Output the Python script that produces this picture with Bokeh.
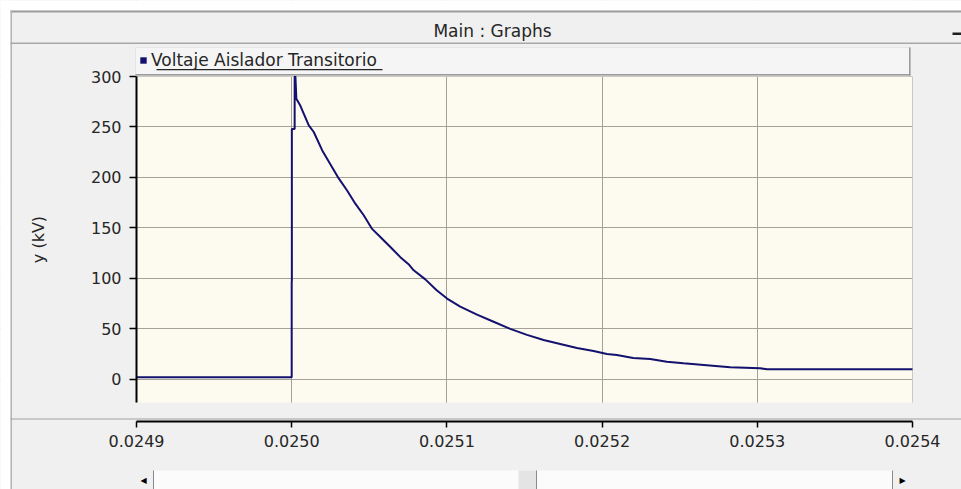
from bokeh.plotting import figure
from bokeh.models import (Range1d, FixedTicker, PrintfTickFormatter, Legend, LegendItem,
                          Label, BoxAnnotation)
from bokeh.embed import file_html
from bokeh.resources import INLINE

# ---------------- data ----------------
time_s = [0.0249000, 0.0250000, 0.0250000, 0.0250001, 0.0250001, 0.0250019, 0.0250019,
          0.0250024, 0.0250030, 0.0250056, 0.0250110, 0.0250142, 0.0250196, 0.0250249,
          0.0250303, 0.0250357, 0.0250410, 0.0250464, 0.0250518, 0.0250571, 0.0250636,
          0.0250700, 0.0250753, 0.0250786, 0.0250861, 0.0250936, 0.0251001, 0.0251086,
          0.0251194, 0.0251301, 0.0251408, 0.0251516, 0.0251623, 0.0251730, 0.0251838,
          0.0251945, 0.0252031, 0.0252095, 0.0252200, 0.0252310, 0.0252417, 0.0252524,
          0.0252675, 0.0252825, 0.0253018, 0.0253061, 0.0254000]
voltage_kv = [2, 2, 97, 97, 248, 248, 300,
              300, 278, 271, 251.5, 245, 227, 213,
              199, 187, 174, 162.5, 149, 141, 131,
              121, 114, 108, 99, 88, 80, 72,
              64, 57, 50, 44, 39, 35, 31,
              28, 25, 24, 21, 20, 17.4, 15.8,
              14, 11.9, 10.9, 9.9, 9.9]
x_ticks = [0.0249, 0.0250, 0.0251, 0.0252, 0.0253, 0.0254]
y_ticks = [0, 50, 100, 150, 200, 250, 300]
y_min = -23
series_name = "Voltaje Aislador Transitorio"
panel_title = "Main : Graphs"
y_label = "y (kV)"

# ---------------- style / layout (canvas pixels) ----------------
FONT = "DejaVu Sans"
PANEL = "#F0F0F0"
CREAM = "#FDFAF0"
GRID = "#A4A296"
NAVY = "#12126E"
TEXT = "#262626"
EDGE = "#A0A0A0"

W, H = 961, 489
PLOT_L, PLOT_R = 136, 912      # cream plotting area
PLOT_T, PLOT_B = 76, 402
AXIS_Y = 421                   # x axis line
LEG_L, LEG_R, LEG_T, LEG_B = 135, 910, 47, 75
PLOT_W = PLOT_R - PLOT_L

x0, x1 = x_ticks[0], x_ticks[-1]
y_top = y_ticks[-1]


def X(px):
    return x0 + (px - PLOT_L) * (x1 - x0) / PLOT_W


def Y(py):
    return y_top - (py - PLOT_T) * (y_top - y_min) / (PLOT_B - PLOT_T)


p = figure(width=W, height=H, title=None,
           x_range=Range1d(X(0), X(W)), y_range=Range1d(Y(H), Y(0)),
           min_border=0, toolbar_location=None, output_backend="svg",
           background_fill_color=CREAM, border_fill_color=PANEL,
           outline_line_color=None)

# grid, limited to the cream area by the grey covers below
p.ygrid.ticker = FixedTicker(ticks=y_ticks)
p.xgrid.ticker = FixedTicker(ticks=x_ticks)
p.grid.grid_line_color = GRID
p.grid.grid_line_width = 1


def box(l, r, t, b, color, level="annotation", line_color=None):
    p.add_layout(BoxAnnotation(left=X(l), right=X(r), top=Y(t), bottom=Y(b),
                               fill_color=color, fill_alpha=1, line_color=line_color,
                               level=level))


# grey window panel around the cream plotting area
box(0, W, 0, PLOT_T, PANEL, "underlay")
box(0, W, PLOT_B, H, PANEL, "underlay")
box(0, PLOT_L, 0, H, PANEL, "underlay")
box(PLOT_R, W, 0, H, PANEL, "underlay")

# y axis, pinned at the left edge of the cream area
ya = p.yaxis[0]
ya.fixed_location = x0
ya.ticker = FixedTicker(ticks=y_ticks)
ya.bounds = (y_min, y_top)
ya.axis_line_color = "black"
ya.axis_line_width = 2
ya.major_tick_line_color = "black"
ya.major_tick_line_width = 1.5
ya.major_tick_out = 7
ya.major_tick_in = 0
ya.minor_tick_line_color = None
ya.major_label_text_font = FONT
ya.major_label_text_font_size = "16px"
ya.major_label_text_color = TEXT
ya.major_label_standoff = 8
ya.axis_label = y_label
ya.axis_label_text_font = FONT
ya.axis_label_text_font_style = "normal"
ya.axis_label_text_font_size = "16px"
ya.axis_label_text_color = TEXT
ya.axis_label_standoff = 40

# x axis, pinned below the cream area
xa = p.xaxis[0]
xa.fixed_location = Y(AXIS_Y)
xa.ticker = FixedTicker(ticks=x_ticks)
xa.bounds = (x0, x1)
xa.formatter = PrintfTickFormatter(format="%.4f")
xa.axis_line_color = "black"
xa.axis_line_width = 2
xa.major_tick_line_color = "black"
xa.major_tick_line_width = 1.5
xa.major_tick_out = 6
xa.major_tick_in = 0
xa.minor_tick_line_color = None
xa.major_label_text_font = FONT
xa.major_label_text_font_size = "16px"
xa.major_label_text_color = TEXT
xa.major_label_standoff = 7

# data
p.line(time_s, voltage_kv, line_color=NAVY, line_width=2)
marker = p.scatter(time_s, voltage_kv, marker="square", size=0,
                   fill_color=NAVY, line_color=None)

# ---------------- window chrome ----------------
box(0, W, 0, 10, "white")                 # outer white margin
box(0, 10, 0, H, "white")
box(10, W, 10, 12, "#9C9C9C")             # top border
box(10, 11.5, 10, H, "#B4B4B4")           # left border
box(10, W, 42, 43.5, "#A8A8A8")           # title bar separator
box(952, W, 32, 34.5, "#202020")          # minimise dash
box(10, W, 418, 419, EDGE)                # separator above the x axis
# scroll bar
box(153, 892, 470, H, "#FBFBFB")
box(518, 536, 470, H, "#E4E4E4")
for xl in (153, 536, 892):
    box(xl - 0.5, xl + 0.5, 470, H, "#8A8A8A")

p.add_layout(Label(x=X(492), y=Y(30), text=panel_title, text_align="center",
                   text_baseline="middle", text_font=FONT, text_font_size="17px",
                   text_color=TEXT))
p.add_layout(Label(x=X(143), y=Y(480), text="\u25C0", text_align="center",
                   text_baseline="middle", text_font=FONT, text_font_size="8px",
                   text_color="black"))
p.add_layout(Label(x=X(902), y=Y(480), text="\u25B6", text_align="center",
                   text_baseline="middle", text_font=FONT, text_font_size="8px",
                   text_color="black"))

# legend bar: background, shadow edges, underline, then the (transparent) legend
box(LEG_L, LEG_R, LEG_T, LEG_B, "#F5F5F5", line_color="#C8C8C8")
box(LEG_R - 1.5, LEG_R, LEG_T, LEG_B, "#9A9A9A")
box(LEG_L, LEG_R, LEG_B - 1.5, LEG_B, "#9A9A9A")
box(156, 382, 68.5, 69.7, TEXT)           # underline of the legend label

leg = Legend(items=[LegendItem(label=series_name, renderers=[marker])],
             location=(LEG_L, H - LEG_B + 5), orientation="horizontal",
             padding=4, margin=0, spacing=0,
             glyph_width=16, glyph_height=20, label_height=20,
             label_width=(LEG_R - LEG_L) - 8 - 16, label_standoff=0,
             label_text_font=FONT, label_text_font_size="17px", label_text_color=TEXT,
             background_fill_alpha=0, border_line_color=None)
p.add_layout(leg)

open("out.html", "w").write(file_html(p, INLINE))
